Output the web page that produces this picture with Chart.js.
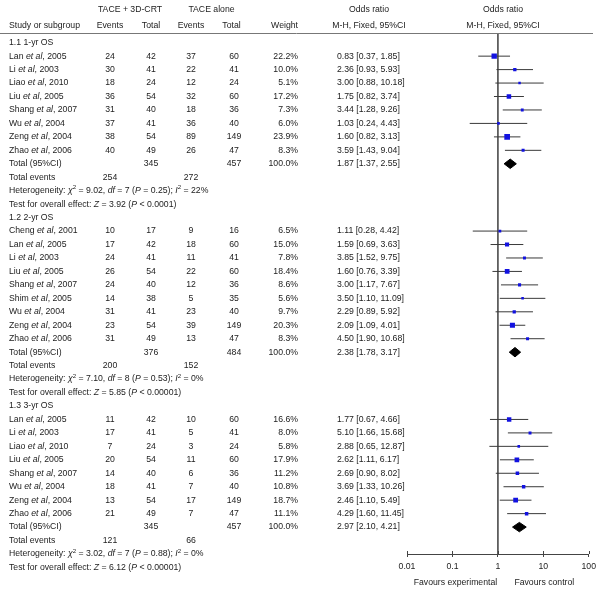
<!DOCTYPE html>
<html>
<head>
<meta charset="utf-8">
<script src="https://cdn.jsdelivr.net/npm/chart.js@4.4.1/dist/chart.umd.min.js"></script>
<style>
  html, body { margin: 0; padding: 0; background: #fff; }
</style>
</head>
<body>
<canvas id="forest" width="600" height="594"></canvas>
<script>
// ---- 1.1 1-yr OS ----
const names1 = ['Lan', 'Li', 'Liao', 'Liu', 'Shang', 'Wu', 'Zeng', 'Zhao'];
const years1 = [2005, 2003, 2010, 2005, 2007, 2004, 2004, 2006];
const evE1 = [24, 30, 18, 36, 31, 37, 38, 40];
const totE1 = [42, 41, 24, 54, 40, 41, 54, 49];
const evC1 = [37, 22, 12, 32, 18, 36, 89, 26];
const totC1 = [60, 41, 24, 60, 36, 40, 149, 47];
const weight1 = [22.2, 10.0, 5.1, 17.2, 7.3, 6.0, 23.9, 8.3];
const or1 = [0.83, 2.36, 3.00, 1.75, 3.44, 1.03, 1.60, 3.59];
const lo1 = [0.37, 0.93, 0.88, 0.82, 1.28, 0.24, 0.82, 1.43];
const hi1 = [1.85, 5.93, 10.18, 3.74, 9.26, 4.43, 3.13, 9.04];
const totals1 = [345, 457];
const events1 = [254, 272];
const pooled1 = [1.87, 1.37, 2.55];
const het1 = ['9.02', '7', '0.25', '22%'];
const test1 = ['3.92', '< 0.0001'];

// ---- 1.2 2-yr OS ----
const names2 = ['Cheng', 'Lan', 'Li', 'Liu', 'Shang', 'Shim', 'Wu', 'Zeng', 'Zhao'];
const years2 = [2001, 2005, 2003, 2005, 2007, 2005, 2004, 2004, 2006];
const evE2 = [10, 17, 24, 26, 24, 14, 31, 23, 31];
const totE2 = [17, 42, 41, 54, 40, 38, 41, 54, 49];
const evC2 = [9, 18, 11, 22, 12, 5, 23, 39, 13];
const totC2 = [16, 60, 41, 60, 36, 35, 40, 149, 47];
const weight2 = [6.5, 15.0, 7.8, 18.4, 8.6, 5.6, 9.7, 20.3, 8.3];
const or2 = [1.11, 1.59, 3.85, 1.60, 3.00, 3.50, 2.29, 2.09, 4.50];
const lo2 = [0.28, 0.69, 1.52, 0.76, 1.17, 1.10, 0.89, 1.09, 1.90];
const hi2 = [4.42, 3.63, 9.75, 3.39, 7.67, 11.09, 5.92, 4.01, 10.68];
const totals2 = [376, 484];
const events2 = [200, 152];
const pooled2 = [2.38, 1.78, 3.17];
const het2 = ['7.10', '8', '0.53', '0%'];
const test2 = ['5.85', '< 0.00001'];

// ---- 1.3 3-yr OS ----
const names3 = ['Lan', 'Li', 'Liao', 'Liu', 'Shang', 'Wu', 'Zeng', 'Zhao'];
const years3 = [2005, 2003, 2010, 2005, 2007, 2004, 2004, 2006];
const evE3 = [11, 17, 7, 20, 14, 18, 13, 21];
const totE3 = [42, 41, 24, 54, 40, 41, 54, 49];
const evC3 = [10, 5, 3, 11, 6, 7, 17, 7];
const totC3 = [60, 41, 24, 60, 36, 40, 149, 47];
const weight3 = [16.6, 8.0, 5.8, 17.9, 11.2, 10.8, 18.7, 11.1];
const or3 = [1.77, 5.10, 2.88, 2.62, 2.69, 3.69, 2.46, 4.29];
const lo3 = [0.67, 1.66, 0.65, 1.11, 0.90, 1.33, 1.10, 1.60];
const hi3 = [4.66, 15.68, 12.87, 6.17, 8.02, 10.26, 5.49, 11.45];
const totals3 = [345, 457];
const events3 = [121, 66];
const pooled3 = [2.97, 2.10, 4.21];
const het3 = ['3.02', '7', '0.88', '0%'];
const test3 = ['6.12', '< 0.00001'];

const xTicks = [0.01, 0.1, 1, 10, 100];

// group table built from the arrays above
const groups = [
  { title: '1.1 1-yr OS', names: names1, years: years1, evE: evE1, totE: totE1, evC: evC1, totC: totC1,
    w: weight1, or: or1, lo: lo1, hi: hi1, totals: totals1, events: events1, pooled: pooled1, het: het1, test: test1 },
  { title: '1.2 2-yr OS', names: names2, years: years2, evE: evE2, totE: totE2, evC: evC2, totC: totC2,
    w: weight2, or: or2, lo: lo2, hi: hi2, totals: totals2, events: events2, pooled: pooled2, het: het2, test: test2 },
  { title: '1.3 3-yr OS', names: names3, years: years3, evE: evE3, totE: totE3, evC: evC3, totC: totC3,
    w: weight3, or: or3, lo: lo3, hi: hi3, totals: totals3, events: events3, pooled: pooled3, het: het3, test: test3 }
];

// assign a row index to every line of the table
let row = 0;
groups.forEach(g => {
  g.headRow = row++;
  g.rows = g.names.map(() => row++);
  g.totalRow = row++;
  g.eventsRow = row++;
  g.hetRow = row++;
  g.testRow = row++;
});

// layout / style
const FONT = '"Liberation Sans", Arial, sans-serif';
const FS = 8.7;
const TEXT = '#222';
const COL = { study: 9, evE: 110, totE: 151, evC: 191, totC: 234, weight: 298, ci: 337, orHead: 369, plotHead: 503 };
const DIAMOND_H = 0.35;   // half height of a diamond in row units
const Y_MIN = -0.72, Y_MAX = 38.0;

// datasets
const squarePts = [], squareSize = [], whiskerPts = [];
groups.forEach(g => {
  g.rows.forEach((r, i) => {
    squarePts.push({ x: g.or[i], y: r });
    const side = 1.6 + 0.17 * g.w[i];
    squareSize.push(side / Math.SQRT2);
    whiskerPts.push({ x: g.lo[i], y: r }, { x: g.hi[i], y: r }, { x: 1, y: null });
  });
});

const diamondSets = groups.map(g => {
  const r = g.totalRow, [est, lo, hi] = g.pooled;
  return {
    type: 'scatter',
    showLine: true,
    data: [{ x: lo, y: r }, { x: est, y: r - DIAMOND_H }, { x: hi, y: r }, { x: est, y: r + DIAMOND_H }, { x: lo, y: r }],
    borderColor: '#000',
    backgroundColor: '#000',
    borderWidth: 1,
    pointRadius: 0,
    tension: 0,
    fill: 'shape'
  };
});

function richText(ctx, x, y, segs, align) {
  // segs: [text, style]  style 0 normal, 1 italic, 2 superscript
  const fontFor = s => (s === 1 ? 'italic ' : '') + (s === 2 ? FS * 0.7 : FS) + 'px ' + FONT;
  let w = 0;
  segs.forEach(([t, s]) => { ctx.font = fontFor(s); w += ctx.measureText(t).width; });
  let cx = align === 'right' ? x - w : align === 'center' ? x - w / 2 : x;
  ctx.textAlign = 'left';
  segs.forEach(([t, s]) => {
    ctx.font = fontFor(s);
    ctx.fillText(t, cx, s === 2 ? y - 3 : y);
    cx += ctx.measureText(t).width;
  });
}

const tablePlugin = {
  id: 'forestTable',
  afterDraw(chart) {
    const ctx = chart.ctx, ys = chart.scales.y, xs = chart.scales.x;
    const area = chart.chartArea;
    ctx.save();
    ctx.fillStyle = TEXT;
    ctx.textBaseline = 'middle';
    const t = (x, y, s, align) => richText(ctx, x, y, [[String(s), 0]], align || 'center');

    // headers
    t(130, 10, 'TACE + 3D-CRT');
    t(211.5, 10, 'TACE alone');
    t(COL.orHead, 10, 'Odds ratio');
    t(COL.plotHead, 10, 'Odds ratio');
    t(COL.study, 25.5, 'Study or subgroup', 'left');
    t(COL.evE, 25.5, 'Events');
    t(COL.totE, 25.5, 'Total');
    t(COL.evC, 25.5, 'Events');
    t(231.5, 25.5, 'Total');
    t(COL.weight, 25.5, 'Weight', 'right');
    t(COL.orHead, 25.5, 'M-H, Fixed, 95%CI');
    t(COL.plotHead, 25.5, 'M-H, Fixed, 95%CI');

    // header rule
    ctx.strokeStyle = '#777';
    ctx.lineWidth = 1;
    ctx.beginPath();
    ctx.moveTo(0, area.top + 0.5);
    ctx.lineTo(593, area.top + 0.5);
    ctx.stroke();

    const ci = (a, b, c) => `${a.toFixed(2)} [${b.toFixed(2)}, ${c.toFixed(2)}]`;
    groups.forEach(g => {
      t(COL.study, ys.getPixelForValue(g.headRow), g.title, 'left');
      g.rows.forEach((r, i) => {
        const y = ys.getPixelForValue(r);
        richText(ctx, COL.study, y, [[g.names[i] + ' ', 0], ['et al', 1], [', ' + g.years[i], 0]], 'left');
        t(COL.evE, y, g.evE[i]);
        t(COL.totE, y, g.totE[i]);
        t(COL.evC, y, g.evC[i]);
        t(COL.totC, y, g.totC[i]);
        t(COL.weight, y, g.w[i].toFixed(1) + '%', 'right');
        t(COL.ci, y, ci(g.or[i], g.lo[i], g.hi[i]), 'left');
      });
      let y = ys.getPixelForValue(g.totalRow);
      t(COL.study, y, 'Total (95%CI)', 'left');
      t(COL.totE, y, g.totals[0]);
      t(COL.totC, y, g.totals[1]);
      t(COL.weight, y, '100.0%', 'right');
      t(COL.ci, y, ci(...g.pooled), 'left');
      y = ys.getPixelForValue(g.eventsRow);
      t(COL.study, y, 'Total events', 'left');
      t(COL.evE, y, g.events[0]);
      t(COL.evC, y, g.events[1]);
      y = ys.getPixelForValue(g.hetRow);
      richText(ctx, COL.study, y, [
        ['Heterogeneity: ', 0], ['\u03c7', 1], ['2', 2], [' = ' + g.het[0] + ', ', 0], ['df', 1],
        [' = ' + g.het[1] + ' (', 0], ['P', 1], [' = ' + g.het[2] + '); ', 0], ['I', 1], ['2', 2],
        [' = ' + g.het[3], 0]
      ], 'left');
      y = ys.getPixelForValue(g.testRow);
      richText(ctx, COL.study, y, [
        ['Test for overall effect: ', 0], ['Z', 1], [' = ' + g.test[0] + ' (', 0], ['P', 1], [' ' + g.test[1] + ')', 0]
      ], 'left');
    });

    // tick marks crossing the axis line
    ctx.strokeStyle = '#444';
    xs.ticks.forEach(tk => {
      const px = Math.round(xs.getPixelForValue(tk.value)) + 0.5;
      ctx.beginPath();
      ctx.moveTo(px, area.bottom - 3);
      ctx.lineTo(px, area.bottom);
      ctx.stroke();
    });

    // favours labels
    t(xs.getPixelForValue(0.1) + 3, 582.5, 'Favours experimental');
    t(xs.getPixelForValue(10) + 1, 582.5, 'Favours control');
    ctx.restore();
  }
};

new Chart(document.getElementById('forest'), {
  type: 'scatter',
  data: {
    datasets: [
      {
        data: squarePts,
        pointStyle: 'rect',
        pointRadius: squareSize,
        backgroundColor: '#1212e0',
        borderColor: '#1212e0',
        borderWidth: 0
      },
      ...diamondSets,
      {
        data: whiskerPts,
        showLine: true,
        spanGaps: false,
        borderColor: '#3a3a3a',
        borderWidth: 1,
        pointRadius: 0
      },
      {
        data: [{ x: 1, y: Y_MIN }, { x: 1, y: Y_MAX }],
        showLine: true,
        borderColor: '#555',
        borderWidth: 1,
        pointRadius: 0
      }
    ]
  },
  options: {
    responsive: false,
    animation: false,
    devicePixelRatio: 1,
    events: [],
    layout: { padding: { left: 407, right: 7, top: 33, bottom: 0 } },
    plugins: { legend: { display: false }, tooltip: { enabled: false } },
    scales: {
      x: {
        type: 'logarithmic',
        position: 'bottom',
        min: 0.01,
        max: 100,
        afterBuildTicks: s => { s.ticks = xTicks.map(v => ({ value: v })); },
        afterFit: s => { s.height = 40; },
        border: { display: true, color: '#444', width: 1 },
        grid: { drawOnChartArea: false, drawTicks: true, tickLength: 3, color: '#444' },
        ticks: {
          autoSkip: false,
          maxRotation: 0,
          padding: 4,
          color: TEXT,
          font: { family: 'Liberation Sans', size: FS },
          callback: v => String(v)
        }
      },
      y: {
        type: 'linear',
        display: false,
        reverse: true,
        min: Y_MIN,
        max: Y_MAX
      }
    }
  },
  plugins: [tablePlugin]
});
</script>
</body>
</html>
